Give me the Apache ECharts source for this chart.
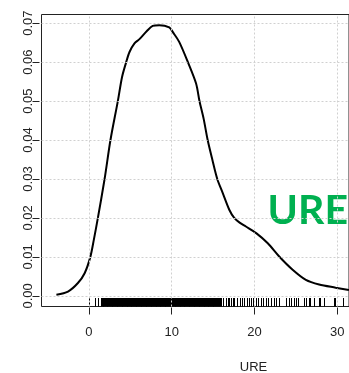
<!DOCTYPE html>
<html>
<head>
<meta charset="utf-8">
<script src="https://cdn.jsdelivr.net/npm/echarts@6/dist/echarts.min.js"></script>
<style>
    html, body { margin: 0; padding: 0; background: #fff; }
    #main { width: 349px; height: 373px; }
</style>
</head>
<body>
<div id="main"></div>
<script>
// 密度曲线 (x, density)
const densX = [-3.93, -2.53, -1.33, -0.52, 0.17, 0.6, 1.08, 1.89, 2.6, 3.49, 4.0, 4.5, 4.9, 5.5, 6.1,
    7.0, 7.7, 8.5, 9.7, 10.2, 10.9, 11.95, 12.94, 13.35, 13.85, 14.34, 14.9, 15.5, 16.14, 16.95,
    17.55, 18.2, 18.96, 20.2, 21.6, 22.98, 24.6, 26.2, 27.8, 29.8, 31.4];
const densY = [0.0003, 0.0011, 0.0033, 0.0058, 0.0100, 0.0145, 0.0200, 0.0300, 0.0400, 0.0500, 0.0562,
    0.0600, 0.0626, 0.0648, 0.0659, 0.0680, 0.0693, 0.0695, 0.0689, 0.0675, 0.0652, 0.0600, 0.0545,
    0.0500, 0.0455, 0.0400, 0.0350, 0.0300, 0.0265, 0.0221, 0.0200, 0.0188, 0.0178, 0.0161, 0.0135,
    0.0101, 0.0067, 0.0041, 0.0029, 0.0021, 0.0015];

// rug 观测值
const rugValues = [0.1, 0.8, 1.2,
    1.5, 1.6, 1.7, 1.8, 1.9, 2.0, 2.1, 2.2, 2.3, 2.4, 2.5, 2.6, 2.7, 2.8, 2.9, 3.0, 3.1, 3.2, 3.3, 3.4,
    3.5, 3.6, 3.7, 3.8, 3.9, 4.0, 4.1, 4.2, 4.3, 4.4, 4.5, 4.6, 4.7, 4.8, 4.9, 5.0, 5.1, 5.2, 5.3, 5.4,
    5.5, 5.6, 5.7, 5.8, 5.9, 6.0, 6.1, 6.2, 6.3, 6.4, 6.5, 6.6, 6.7, 6.8, 6.9, 7.0, 7.1, 7.2, 7.3, 7.4,
    7.5, 7.6, 7.7, 7.8, 7.9, 8.0, 8.1, 8.2, 8.3, 8.4, 8.5, 8.6, 8.7, 8.8, 8.9, 9.0, 9.1, 9.2, 9.3, 9.4,
    9.5, 9.6, 9.7, 9.8, 9.9, 10.0, 10.1, 10.2, 10.3, 10.4, 10.5, 10.6, 10.7, 10.8, 10.9, 11.0, 11.1,
    11.2, 11.3, 11.4, 11.5, 11.6, 11.7, 11.8, 11.9, 12.0, 12.1, 12.2, 12.3, 12.4, 12.5, 12.6, 12.7,
    12.8, 12.9, 13.0, 13.1, 13.2, 13.3, 13.4, 13.5, 13.6, 13.7, 13.8, 13.9, 14.0, 14.1, 14.2, 14.3,
    14.4, 14.5, 14.6, 14.7, 14.8, 14.9, 15.0, 15.1, 15.2, 15.3, 15.4, 15.5, 15.6,
    15.8, 15.9, 16.0, 16.2, 16.6, 16.8, 17.0, 17.2, 17.4, 17.6, 17.9, 18.3, 18.5, 18.8, 19.1, 19.4,
    19.6, 19.9, 20.2, 20.5, 20.8, 21.1, 21.4, 21.7, 22.0, 22.4, 22.7, 23.0, 23.9, 24.2, 24.5, 24.8,
    25.1, 25.3, 26.0, 26.3, 26.6, 26.7, 27.2, 27.3, 27.9, 28.0, 28.4, 29.6, 29.8, 30.8];

// 刻度
const xTicks = [0, 10, 20, 30];
const yTicks = [0, 0.01, 0.02, 0.03, 0.04, 0.05, 0.06, 0.07];
const xTitle = 'URE';
const bigLabel = 'URE';

const rugY = -0.00274;   // rug 从下边框往上画
const labelFont = '"Liberation Sans", Arial, sans-serif';

const chart = echarts.init(document.getElementById('main'), null, { renderer: 'canvas' });

const gridLines = [
    ...xTicks.map((v) => ({ xAxis: v })),
    ...yTicks.map((v) => ({ yAxis: v }))
];

chart.setOption({
    animation: false,
    grid: {
        left: 41.5,
        top: 14.5,
        right: -1,
        bottom: 66.5,
        show: true,
        borderColor: '#222',
        borderWidth: 1,
        backgroundColor: 'transparent'
    },
    xAxis: {
        type: 'value',
        min: -5.73,
        max: 31.41,
        offset: 1,
        axisLine: { show: false, onZero: false },
        axisTick: { show: true, length: 7, customValues: xTicks, lineStyle: { color: '#222' } },
        axisLabel: {
            customValues: xTicks,
            margin: 18,
            color: '#222',
            fontFamily: labelFont,
            fontSize: 13
        },
        splitLine: { show: false }
    },
    yAxis: {
        type: 'value',
        min: -0.00274,
        max: 0.07223,
        offset: 2,
        axisLine: { show: false, onZero: false },
        axisTick: { show: true, length: 7, customValues: yTicks, lineStyle: { color: '#222' } },
        axisLabel: {
            customValues: yTicks,
            rotate: 90,
            margin: 5,
            color: '#222',
            fontFamily: labelFont,
            fontSize: 13,
            formatter: (v) => v.toFixed(2)
        },
        splitLine: { show: false }
    },
    series: [
        {
            type: 'line',
            smooth: 0.3,
            symbol: 'none',
            lineStyle: { color: '#000', width: 2 },
            data: densX.map((x, i) => [x, densY[i]]),
            markLine: {
                silent: true,
                symbol: 'none',
                label: { show: false },
                lineStyle: { color: '#d0d0d0', type: [2, 2], width: 1 },
                data: gridLines
            },
            z: 3
        },
        {
            // rug：每个观测值一根竖线，对齐到整像素
            type: 'custom',
            data: rugValues.map((v) => [v, rugY]),
            renderItem: (params, api) => {
                const p = api.coord([api.value(0), api.value(1)]);
                return {
                    type: 'rect',
                    shape: { x: Math.floor(p[0]), y: Math.round(p[1]) - 9, width: 1, height: 9 },
                    style: { fill: '#000' }
                };
            },
            clip: true,
            z: 2
        }
    ],
    graphic: [
        {
            type: 'text',
            x: 253.5,
            y: 367,
            style: {
                text: xTitle,
                fill: '#222',
                font: '13px ' + labelFont,
                textAlign: 'center',
                textVerticalAlign: 'middle'
            }
        },
        {
            type: 'text',
            x: 348,
            y: 211,
            style: {
                text: bigLabel,
                fill: '#00b050',
                font: 'bold 41px Lato, "Open Sans", sans-serif',
                textAlign: 'right',
                textVerticalAlign: 'middle'
            }
        }
    ]
});
</script>
</body>
</html>
